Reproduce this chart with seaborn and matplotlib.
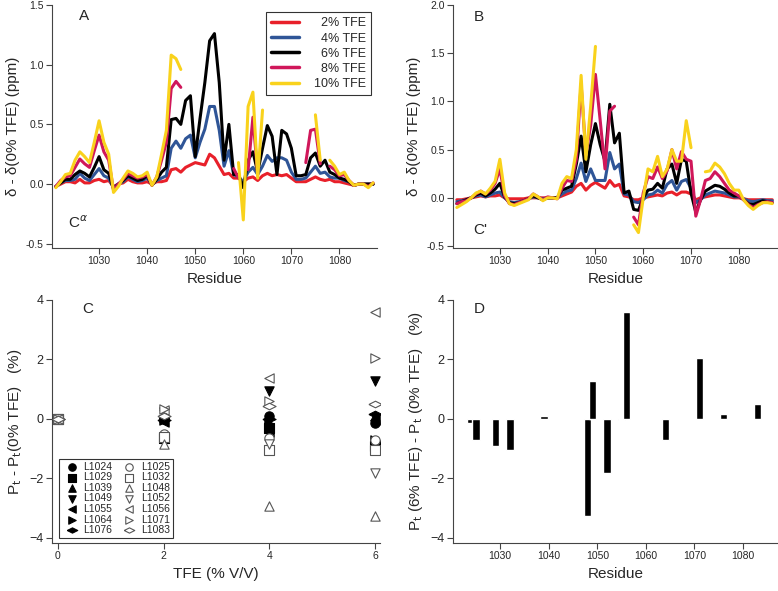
import numpy as np
import pandas as pd
import seaborn as sns
import matplotlib.pyplot as plt

sns.set_style("ticks")
plt.rcParams['font.family'] = ['Liberation Sans', 'DejaVu Sans']

nan = np.nan

# residue numbers for the chemical shift panels
residues = list(range(1021, 1088))
tfe_labels = ["2% TFE", "4% TFE", "6% TFE", "8% TFE", "10% TFE"]
tfe_colors = ["#e8202a", "#2f5597", "#000000", "#d0175a", "#f9d21c"]

# panel A: C-alpha shift differences (ppm)
ca_2 = [-0.02, 0.00, 0.02, 0.02, 0.01, 0.04, 0.01, 0.01, 0.03, 0.04,
        0.02, 0.03, -0.02, 0.00, 0.01, 0.04, 0.02, 0.01, 0.01, 0.02,
        0.00, 0.02, 0.02, 0.03, 0.12, 0.13, 0.10, 0.14, 0.16, 0.18,
        0.17, 0.16, 0.25, 0.22, 0.15, 0.08, 0.09, 0.05, 0.05, 0.02,
        0.05, 0.06, 0.03, 0.07, 0.09, 0.07, 0.08, 0.07, 0.08, 0.05,
        0.02, 0.02, 0.02, 0.04, 0.06, 0.04, 0.03, 0.04, 0.02, 0.02,
        0.01, 0.00, -0.01, 0.00, 0.00, 0.00, 0.00]
ca_4 = [-0.02, 0.01, 0.03, 0.03, 0.04, 0.09, 0.05, 0.03, 0.08, 0.13,
        0.07, 0.05, -0.03, 0.00, 0.02, 0.06, 0.04, 0.02, 0.03, 0.05,
        0.00, 0.03, 0.05, 0.07, 0.30, 0.36, 0.30, 0.38, 0.41, 0.22,
        0.35, 0.46, 0.65, 0.65, 0.45, 0.15, 0.28, 0.08, 0.06, 0.02,
        0.10, 0.14, 0.08, 0.15, 0.24, 0.19, 0.22, 0.22, 0.20, 0.10,
        0.04, 0.04, 0.05, 0.10, 0.15, 0.09, 0.10, 0.06, 0.05, 0.05,
        0.03, 0.02, -0.01, 0.00, 0.00, 0.00, 0.00]
ca_6 = [-0.02, 0.01, 0.04, 0.04, 0.08, 0.11, 0.09, 0.06, 0.14, 0.23,
        0.12, 0.09, -0.04, 0.00, 0.03, 0.07, 0.05, 0.03, 0.04, 0.07,
        -0.01, 0.04, 0.10, 0.14, 0.54, 0.55, 0.50, 0.70, 0.74, 0.23,
        0.55, 0.85, 1.20, 1.26, 0.85, 0.20, 0.50, 0.08, 0.08, -0.03,
        0.20, 0.27, 0.10, 0.30, 0.49, 0.40, 0.08, 0.45, 0.42, 0.30,
        0.07, 0.07, 0.08, 0.22, 0.26, 0.15, 0.20, 0.10, 0.08, 0.05,
        0.04, 0.02, -0.01, 0.00, 0.00, 0.00, 0.00]
ca_8 = [-0.02, 0.03, 0.06, 0.07, 0.14, 0.21, 0.17, 0.14, 0.28, 0.41,
        0.27, 0.20, -0.05, 0.00, 0.04, 0.09, 0.07, 0.05, 0.06, 0.08,
        -0.01, 0.06, 0.20, 0.35, 0.80, 0.86, 0.81, nan, nan, nan,
        nan, nan, nan, nan, nan, nan, nan, 0.13, 0.05, nan,
        0.12, 0.56, 0.08, nan, nan, nan, nan, nan, nan, nan,
        nan, nan, 0.18, 0.45, 0.46, 0.17, nan, 0.15, 0.12, 0.07,
        0.08, 0.03, -0.01, 0.00, 0.00, -0.02, 0.01]
ca_10 = [-0.03, 0.02, 0.08, 0.09, 0.20, 0.27, 0.23, 0.18, 0.35, 0.53,
         0.35, 0.25, -0.07, -0.02, 0.05, 0.11, 0.09, 0.06, 0.07, 0.10,
         -0.01, 0.06, 0.25, 0.45, 1.08, 1.05, 0.96, nan, nan, nan,
         nan, nan, nan, nan, nan, nan, nan, nan, 0.18, -0.30,
         0.65, 0.77, 0.05, 0.62, nan, nan, nan, nan, nan, nan,
         nan, nan, nan, nan, 0.58, 0.20, nan, 0.20, 0.15, 0.08,
         0.10, 0.03, -0.01, 0.00, 0.00, -0.03, 0.01]

# panel B: C' shift differences (ppm)
co_2 = [-0.02, -0.02, -0.01, 0.00, 0.01, 0.02, 0.01, 0.02, 0.02, 0.03,
        0.00, -0.01, -0.01, -0.01, -0.01, 0.00, 0.00, 0.00, 0.00, 0.00,
        0.00, 0.00, 0.02, 0.04, 0.06, 0.12, 0.15, 0.08, 0.13, 0.16,
        0.13, 0.10, 0.18, 0.12, 0.14, 0.02, 0.01, -0.02, -0.02, 0.00,
        0.01, 0.02, 0.03, 0.02, 0.05, 0.06, 0.03, 0.06, 0.06, 0.04,
        -0.02, 0.00, 0.01, 0.02, 0.03, 0.03, 0.02, 0.01, 0.00, 0.00,
        -0.01, -0.02, -0.02, -0.02, -0.02, -0.02, -0.02]
co_4 = [-0.04, -0.03, -0.02, 0.00, 0.02, 0.03, 0.01, 0.03, 0.05, 0.06,
        0.00, -0.04, -0.05, -0.04, -0.03, -0.01, 0.01, 0.00, -0.01, 0.00,
        0.00, 0.00, 0.04, 0.07, 0.08, 0.20, 0.36, 0.17, 0.30, 0.18,
        0.18, 0.18, 0.47, 0.30, 0.35, 0.04, 0.03, -0.04, -0.05, -0.02,
        0.03, 0.04, 0.08, 0.05, 0.14, 0.18, 0.08, 0.17, 0.19, 0.10,
        -0.05, -0.02, 0.03, 0.05, 0.07, 0.06, 0.05, 0.03, 0.01, 0.01,
        -0.01, -0.03, -0.04, -0.03, -0.02, -0.03, -0.03]
co_6 = [-0.06, -0.04, -0.02, 0.00, 0.03, 0.05, 0.02, 0.05, 0.09, 0.15,
        0.01, -0.05, -0.06, -0.05, -0.03, -0.01, 0.02, 0.00, -0.02, 0.00,
        0.00, 0.00, 0.08, 0.10, 0.12, 0.35, 0.64, 0.27, 0.55, 0.77,
        0.55, 0.38, 0.97, 0.57, 0.67, 0.05, 0.07, -0.12, -0.13, 0.00,
        0.08, 0.09, 0.15, 0.10, 0.30, 0.35, 0.15, 0.40, 0.38, 0.05,
        -0.15, -0.02, 0.07, 0.10, 0.13, 0.12, 0.09, 0.05, 0.02, 0.02,
        -0.02, -0.06, -0.07, -0.05, -0.03, -0.04, -0.05]
co_8 = [-0.06, -0.04, -0.03, 0.00, 0.04, 0.07, 0.04, 0.08, 0.15, 0.30,
        0.02, -0.06, -0.07, -0.05, -0.03, -0.01, 0.04, 0.01, -0.02, 0.01,
        0.00, -0.01, 0.10, 0.18, 0.17, 0.40, 1.18, 0.45, 0.75, 1.28,
        0.80, 0.30, 0.90, 0.95, nan, nan, nan, -0.20, -0.28, 0.05,
        0.22, 0.20, 0.32, 0.20, 0.28, 0.50, 0.30, 0.48, 0.40, 0.38,
        -0.19, -0.02, 0.18, 0.20, 0.27, 0.22, 0.15, 0.08, 0.05, 0.02,
        -0.02, -0.07, -0.10, -0.07, -0.05, -0.04, -0.05]
co_10 = [-0.10, -0.07, -0.04, 0.00, 0.05, 0.07, 0.04, 0.10, 0.17, 0.40,
         0.05, -0.06, -0.08, -0.06, -0.04, -0.02, 0.04, 0.01, -0.03, 0.00,
         0.00, -0.01, 0.15, 0.22, 0.20, 0.50, 1.27, 0.40, 0.95, 1.57,
         nan, nan, nan, nan, nan, nan, nan, -0.28, -0.36, 0.00,
         0.30, 0.27, 0.43, 0.22, 0.30, 0.50, 0.38, 0.38, 0.80, 0.52,
         nan, nan, 0.27, 0.28, 0.36, 0.32, 0.25, 0.15, 0.08, 0.08,
         -0.02, -0.08, -0.12, -0.08, -0.05, -0.05, -0.06]

# panel C / D: population change for labelled leucines
tfe_conc = [0, 2, 4, 6]
leu_names = ["L1024", "L1029", "L1039", "L1049", "L1055", "L1064", "L1076",
             "L1025", "L1032", "L1048", "L1052", "L1056", "L1071", "L1083"]
leu_res = [1024, 1029, 1039, 1049, 1055, 1064, 1076,
           1025, 1032, 1048, 1052, 1056, 1071, 1083]
pt_0 = [0.0] * 14
pt_2 = [0.00, -0.65, 0.20, 0.22, -0.10, -0.05, -0.05,
        -0.50, -0.62, -0.85, 0.20, 0.30, 0.35, 0.10]
pt_4 = [0.10, -0.30, -0.10, 0.95, -0.45, -0.20, 0.00,
        -0.65, -1.05, -2.92, -0.85, 1.38, 0.60, 0.42]
pt_6 = [-0.15, -0.92, 0.10, 1.28, -0.02, -0.72, 0.18,
        -0.72, -1.05, -3.25, -1.80, 3.58, 2.05, 0.50]

wide_diamond = [(-1, 0), (0, 0.5), (1, 0), (0, -0.5), (-1, 0)]
leu_markers = ["o", "s", "^", "v", "<", ">", wide_diamond,
               "o", "s", "^", "v", "<", ">", wide_diamond]
leu_filled = [True] * 7 + [False] * 7


def long_frame(series):
    # one row per point, a new segment id after every gap
    rows = []
    for lab, vals in zip(tfe_labels, series):
        seg = 0
        for r, v in zip(residues, vals):
            if np.isnan(v):
                seg += 1
                continue
            rows.append((r, v, lab, seg))
    return pd.DataFrame(rows, columns=["Residue", "shift", "TFE", "seg"])


def style_axis(ax):
    sns.despine(ax=ax)
    for s in ["left", "bottom"]:
        ax.spines[s].set_color("#444444")
        ax.spines[s].set_linewidth(0.8)
    ax.tick_params(direction="out", length=4, width=0.8, color="#444444",
                   labelsize=7.5, pad=2)


fig = plt.figure(figsize=(7.78, 5.91), dpi=100)
axA = fig.add_axes([0.0668, 0.5804, 0.4177, 0.4112])
axB = fig.add_axes([0.5823, 0.5804, 0.4177, 0.4112])
axC = fig.add_axes([0.0668, 0.0812, 0.4216, 0.4112])
axD = fig.add_axes([0.5823, 0.0812, 0.4177, 0.4112])

palette = dict(zip(tfe_labels, tfe_colors))

# A
dfA = long_frame([ca_2, ca_4, ca_6, ca_8, ca_10])
sns.lineplot(data=dfA, x="Residue", y="shift", hue="TFE", units="seg",
             estimator=None, palette=palette, linewidth=2.2, ax=axA)
handles, labels = axA.get_legend_handles_labels()
for h in handles:
    h.set_linewidth(2.5)
labels = ["  " + l if len(l) < 7 else l for l in labels]
leg = axA.legend(handles, labels, loc="upper right", bbox_to_anchor=(1.0, 0.995),
                 fontsize=9, frameon=True, fancybox=False, edgecolor="black",
                 handlelength=2.2, labelspacing=0.25, borderpad=0.4,
                 handletextpad=1.2)
leg.get_frame().set_linewidth(0.8)
axA.set_xlim(1020.2, 1087.8)
axA.set_ylim(-0.535, 1.5)
axA.set_xticks([1030, 1040, 1050, 1060, 1070, 1080])
axA.set_yticks([-0.5, 0.0, 0.5, 1.0, 1.5])
axA.set_yticklabels(["-0.5", "0.0", "0.5", "1.0", "1.5"])
axA.set_xlabel("Residue", fontsize=11)
axA.set_ylabel("δ - δ(0% TFE) (ppm)", fontsize=11)
axA.text(1025.8, 1.37, "A", fontsize=11)
axA.text(1023.5, -0.37, r"C$^{\alpha}$", fontsize=11)
style_axis(axA)

# B
dfB = long_frame([co_2, co_4, co_6, co_8, co_10])
sns.lineplot(data=dfB, x="Residue", y="shift", hue="TFE", units="seg",
             estimator=None, palette=palette, linewidth=2.2, legend=False, ax=axB)
axB.set_xlim(1020.2, 1088.2)
axB.set_ylim(-0.52, 2.0)
axB.set_xticks([1030, 1040, 1050, 1060, 1070, 1080])
axB.set_yticks([-0.5, 0.0, 0.5, 1.0, 1.5, 2.0])
axB.set_yticklabels(["-0.5", "0.0", "0.5", "1.0", "1.5", "2.0"])
axB.set_xlabel("Residue", fontsize=11)
axB.set_ylabel("δ - δ(0% TFE) (ppm)", fontsize=11)
axB.text(1024.5, 1.83, "B", fontsize=11)
axB.text(1024.5, -0.37, "C'", fontsize=11)
style_axis(axB)

# C
pt_table = np.array([pt_0, pt_2, pt_4, pt_6])
for i, name in enumerate(leu_names):
    face = "black" if leu_filled[i] else "white"
    edge = "black" if leu_filled[i] else "#555555"
    size = 90 if leu_markers[i] is wide_diamond else 45
    sns.scatterplot(x=tfe_conc, y=pt_table[:, i], marker=leu_markers[i],
                    s=size, color=face, edgecolor=edge, linewidth=0.8,
                    label=name, legend=False, ax=axC, zorder=3)
handles, labels = axC.get_legend_handles_labels()
leg = axC.legend(handles, labels, ncol=2, loc="lower left",
                 bbox_to_anchor=(0.02, 0.02), borderaxespad=0, fontsize=7.5,
                 frameon=True, fancybox=False, edgecolor="black",
                 handletextpad=0.1, columnspacing=0.6, labelspacing=0.05,
                 borderpad=0.3, markerscale=0.8)
leg.get_frame().set_linewidth(0.8)
axC.set_xlim(-0.114, 6.095)
axC.set_ylim(-4.17, 4.0)
axC.set_xticks([0, 2, 4, 6])
axC.set_yticks([-4, -2, 0, 2, 4])
axC.set_xlabel("TFE (% V/V)", fontsize=11)
axC.set_ylabel(r"P$_\mathrm{t}$ - P$_\mathrm{t}$(0% TFE)   (%)", fontsize=11)
axC.text(0.45, 3.55, "C", fontsize=11)
style_axis(axC)
axC.tick_params(axis="y", labelsize=9)

# D: 6% minus 0% population
pt_diff = [b - a for a, b in zip(pt_0, pt_6)]
sns.barplot(x=leu_res, y=pt_diff, native_scale=True, orient="x", width=1.5,
            color="black", saturation=1, errorbar=None, ax=axD)
axD.set_xlim(1020.3, 1087.2)
axD.set_ylim(-4.17, 4.0)
axD.set_xticks([1030, 1040, 1050, 1060, 1070, 1080])
axD.set_yticks([-4, -2, 0, 2, 4])
axD.set_xlabel("Residue", fontsize=11)
axD.set_ylabel(r"P$_\mathrm{t}$ (6% TFE) - P$_\mathrm{t}$ (0% TFE)   (%)", fontsize=11)
axD.text(1024.5, 3.55, "D", fontsize=11)
style_axis(axD)
axD.tick_params(axis="y", labelsize=9)

fig.savefig("out.png", dpi=100)
